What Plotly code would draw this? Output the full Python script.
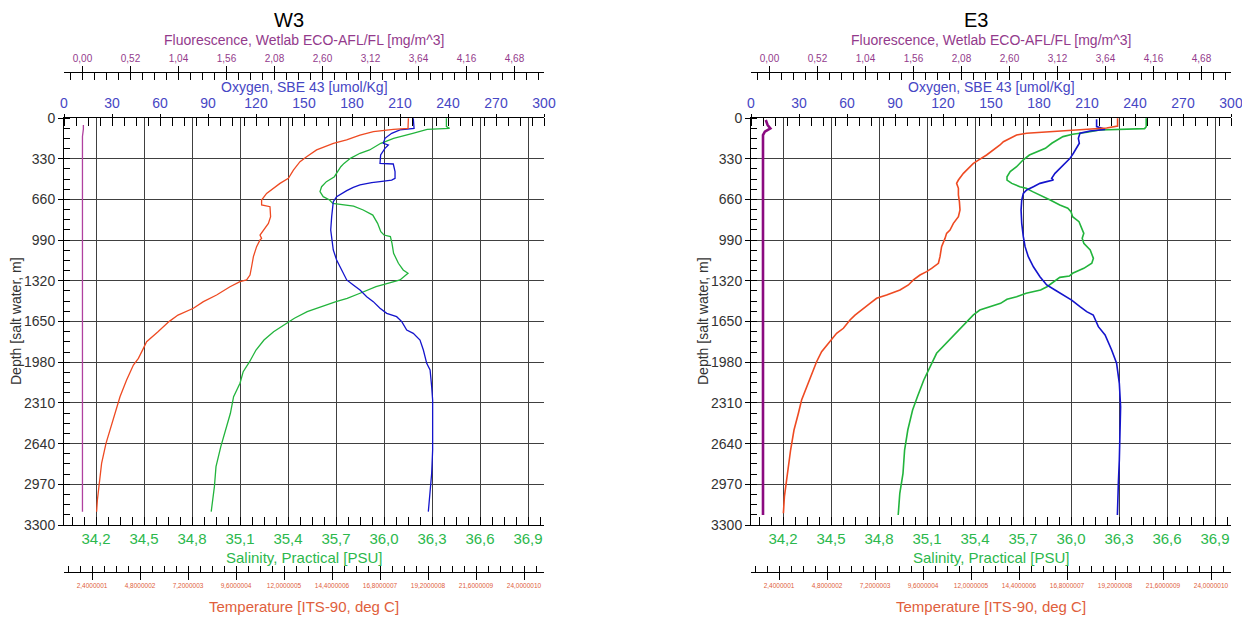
import plotly.graph_objects as go

# The page places the figure 8 px in from the top-left corner, so the figure is
# sized to end exactly at the 1250x618 window edge.
OFF = 8
W, H = 1250 - OFF, 618 - OFF

# ---------------- axis ticks / labels ----------------
depth_ticks = [0, 330, 660, 990, 1320, 1650, 1980, 2310, 2640, 2970, 3300]
depth_labels = [str(v) for v in depth_ticks]
oxy_ticks = [0, 30, 60, 90, 120, 150, 180, 210, 240, 270, 300]
oxy_labels = [str(v) for v in oxy_ticks]
sal_ticks = [34.2, 34.5, 34.8, 35.1, 35.4, 35.7, 36.0, 36.3, 36.6, 36.9]
sal_labels = ["34,2", "34,5", "34,8", "35,1", "35,4", "35,7", "36,0", "36,3", "36,6", "36,9"]
flu_ticks = [0.0, 0.52, 1.04, 1.56, 2.08, 2.60, 3.12, 3.64, 4.16, 4.68]
flu_labels = ["0,00", "0,52", "1,04", "1,56", "2,08", "2,60", "3,12", "3,64", "4,16", "4,68"]
tem_ticks = [2.4, 4.8, 7.2, 9.6, 12.0, 14.4, 16.8, 19.2, 21.6, 24.0]
tem_labels = ["2,4000001", "4,8000002", "7,2000003", "9,6000004", "12,0000005",
              "14,4000006", "16,8000007", "19,2000008", "21,6000009", "24,0000010"]

# ---------------- W3 profiles ----------------
w3_temp_depth = [2, 84, 92, 111, 138, 178, 205, 259, 314, 354, 422, 489, 530, 570, 611, 665, 705, 719,
                 800, 854, 908, 949, 976, 989, 1043, 1124, 1206, 1273, 1313, 1327, 1368, 1435, 1489,
                 1543, 1598, 1651, 1733, 1814, 1868, 1949, 2003, 2124, 2260, 2394, 2530, 2638, 2800,
                 2935, 3097, 3192]
w3_temp = [18.22, 18.2, 17.47, 16.47, 15.8, 15.13, 14.47, 13.63, 13.13, 12.8, 12.47, 12.22, 11.8, 11.47,
           11.13, 10.88, 10.88, 11.3, 11.33, 11.22, 10.97, 10.8, 10.88, 10.8, 10.63, 10.47, 10.38, 10.3,
           10.13, 9.8, 9.3, 8.63, 7.97, 7.47, 6.7, 6.25, 5.7, 5.13, 4.97, 4.72, 4.47, 4.13, 3.8, 3.55,
           3.3, 3.1, 2.88, 2.77, 2.67, 2.63]

w3_sal_depth = [2, 70, 84, 92, 124, 165, 205, 259, 286, 327, 368, 395, 476, 516, 557, 597, 638, 665, 692,
                705, 714, 746, 787, 854, 922, 949, 962, 1016, 1097, 1178, 1232, 1259, 1287, 1313, 1335,
                1368, 1421, 1462, 1489, 1530, 1570, 1624, 1665, 1733, 1800, 1881, 1976, 2057, 2151, 2260,
                2394, 2530, 2665, 2827, 2989, 3192]
w3_sal = [36.39, 36.39, 36.41, 36.27, 36.18, 36.06, 35.98, 35.91, 35.85, 35.79, 35.75, 35.73, 35.69,
          35.64, 35.61, 35.6, 35.62, 35.66, 35.68, 35.75, 35.81, 35.87, 35.93, 35.96, 35.98, 36.0, 36.04,
          36.05, 36.06, 36.09, 36.12, 36.15, 36.12, 36.1, 36.04, 35.95, 35.85, 35.77, 35.7, 35.61, 35.52,
          35.44, 35.39, 35.31, 35.25, 35.2, 35.16, 35.12, 35.1, 35.06, 35.04, 35.01, 34.98, 34.95, 34.94,
          34.92]

w3_oxy_depth = [2, 84, 97, 124, 165, 205, 219, 246, 300, 368, 373, 435, 489, 503, 516, 524, 543, 562, 589,
                611, 638, 678, 719, 800, 908, 989, 1070, 1151, 1232, 1313, 1354, 1395, 1449, 1489, 1543,
                1584, 1611, 1651, 1719, 1746, 1800, 1881, 1989, 2043, 2179, 2287, 2503, 2692, 2881, 3016,
                3192]
w3_oxy = [218.3, 218.8, 210.0, 204.8, 200.6, 199.6, 202.7, 200.6, 197.9, 197.5, 205.8, 206.9, 206.9, 204.8,
          197.5, 192.3, 185.0, 180.8, 176.7, 173.5, 170.4, 168.3, 167.9, 167.3, 166.7, 167.3, 168.3, 170.4,
          173.5, 176.7, 180.8, 185.0, 189.2, 193.3, 197.5, 201.7, 207.9, 211.1, 214.2, 218.3, 222.5, 224.6,
          226.7, 228.8, 229.8, 230.4, 230.4, 230.4, 229.8, 228.8, 227.7]

w3_flu_depth = [57, 90, 150, 1000, 2000, 3192]
w3_flu = [0.01, 0.01, 0.0, 0.0, 0.0, 0.0]

# ---------------- E3 profiles ----------------
e3_temp_depth = [2, 65, 81, 89, 97, 111, 119, 124, 138, 165, 192, 219, 259, 300, 341, 368, 408, 449, 503,
                 530, 570, 624, 678, 746, 800, 854, 908, 935, 976, 1043, 1124, 1178, 1219, 1246, 1273, 1313,
                 1354, 1395, 1435, 1462, 1503, 1543, 1598, 1638, 1705, 1746, 1814, 1895, 1976, 2151, 2287,
                 2394, 2530, 2692, 2827, 2935, 3070, 3205]
e3_temp = [19.33, 19.33, 18.78, 17.95, 17.12, 16.28, 15.45, 14.78, 14.28, 13.95, 13.62, 13.45, 13.12, 12.78,
           12.37, 12.12, 11.87, 11.62, 11.37, 11.28, 11.37, 11.37, 11.42, 11.45, 11.37, 11.12, 10.95, 10.78,
           10.7, 10.53, 10.45, 10.37, 10.03, 9.78, 9.45, 9.12, 8.87, 8.45, 7.78, 7.28, 6.95, 6.62, 6.2, 5.95,
           5.62, 5.28, 4.95, 4.53, 4.28, 3.87, 3.53, 3.37, 3.15, 2.98, 2.87, 2.75, 2.67, 2.62]

e3_sal_depth = [2, 70, 86, 89, 97, 116, 132, 151, 178, 205, 246, 273, 300, 341, 395, 435, 476, 503, 530, 557,
                570, 597, 638, 665, 705, 732, 760, 800, 841, 895, 935, 976, 1016, 1070, 1138, 1178, 1219,
                1259, 1281, 1292, 1327, 1368, 1395, 1421, 1449, 1470, 1503, 1530, 1557, 1597, 1651, 1719,
                1827, 1908, 2016, 2124, 2260, 2368, 2530, 2692, 2881, 3043, 3219]
e3_sal = [36.47, 36.47, 36.46, 36.29, 36.18, 36.1, 36.01, 35.95, 35.91, 35.88, 35.84, 35.79, 35.74, 35.7,
          35.66, 35.62, 35.6, 35.6, 35.63, 35.68, 35.72, 35.76, 35.83, 35.87, 35.93, 35.98, 36.0, 36.01,
          36.05, 36.07, 36.08, 36.07, 36.08, 36.12, 36.14, 36.13, 36.08, 36.01, 35.99, 35.93, 35.89, 35.85,
          35.81, 35.72, 35.66, 35.6, 35.56, 35.5, 35.43, 35.39, 35.35, 35.3, 35.22, 35.16, 35.12, 35.08,
          35.04, 35.01, 34.98, 34.96, 34.95, 34.93, 34.92]

e3_oxy_depth = [11, 70, 92, 105, 124, 165, 205, 246, 286, 327, 368, 408, 449, 489, 503, 516, 530, 557, 584,
                611, 665, 746, 854, 962, 1043, 1124, 1206, 1287, 1354, 1395, 1435, 1476, 1530, 1570, 1597,
                1651, 1692, 1759, 1881, 1989, 2151, 2341, 2611, 2773, 2962, 3097, 3219]
e3_oxy = [216.0, 216.0, 221.3, 211.9, 205.6, 204.6, 205.2, 203.5, 201.5, 199.4, 196.3, 193.1, 190.0, 187.9,
          189.0, 184.8, 180.6, 176.5, 172.3, 170.2, 169.2, 168.8, 169.2, 170.2, 171.3, 173.3, 176.5, 180.6,
          184.8, 190.0, 195.2, 200.4, 205.6, 209.8, 213.9, 216.0, 217.1, 221.3, 225.4, 228.5, 230.2, 231.0,
          230.6, 230.2, 229.6, 229.2, 229.0]

e3_flu_depth = [16, 57, 84, 111, 138, 1000, 2000, 3219]
e3_flu = [-0.04, -0.02, 0.01, -0.05, -0.07, -0.07, -0.07, -0.07]

# ---------------- styling ----------------
C_TEMP, C_TEMP_TXT = "#ee4a22", "#e0603c"
C_SAL, C_SAL_TXT = "#22b43c", "#2cb84c"
C_OXY, C_OXY_TXT = "#1414cc", "#4646c4"
C_FLU, C_FLU_TXT = "#a01890", "#933a8c"
GRID = "#404040"
FONT = "Liberation Sans, Arial, sans-serif"


def fx(px):
    # window pixel -> paper fraction
    return (px - OFF) / W


def fy(py):
    return 1 - (py - OFF) / H


Y_DOM = [fy(525), fy(118)]
panels = [
    dict(name="W3", x0=64, x1=544, xs=["x", "x2", "x3", "x4"], y="y", lw=1.3, flw=1.3,
         temp=(w3_temp, w3_temp_depth), sal=(w3_sal, w3_sal_depth), oxy=(w3_oxy, w3_oxy_depth),
         flu=(w3_flu, w3_flu_depth), flc="#b0409f"),
    dict(name="E3", x0=751, x1=1231, xs=["x5", "x6", "x7", "x8"], y="y2", lw=1.6, flw=2.6,
         temp=(e3_temp, e3_temp_depth), sal=(e3_sal, e3_sal_depth), oxy=(e3_oxy, e3_oxy_depth),
         flu=(e3_flu, e3_flu_depth), flc="#8b0a80"),
]

fig = go.Figure()
layout = dict(template="none", width=W, height=H,
              margin=dict(l=0, r=0, t=0, b=0, pad=0, autoexpand=False),
              paper_bgcolor="white", plot_bgcolor="white", showlegend=False,
              font=dict(family=FONT, color="#333"), annotations=[])


def axname(a):
    return "xaxis" if a == "x" else "xaxis" + a[1:]


def yname(a):
    return "yaxis" if a == "y" else "yaxis" + a[1:]


for p in panels:
    xs_, xo, xf, xt = p["xs"]
    ya = p["y"]
    dom = [fx(p["x0"]), fx(p["x1"])]
    # salinity (main bottom axis, carries grid)
    layout[axname(xs_)] = dict(
        domain=dom, range=[34.0, 37.0], anchor=ya, side="bottom", automargin=False,
        tickmode="array", tickvals=sal_ticks, ticktext=sal_labels,
        tickfont=dict(size=15, color=C_SAL_TXT), ticks="", showgrid=True, gridcolor=GRID, gridwidth=1,
        showline=True, linecolor="black", linewidth=1, zeroline=False, fixedrange=True,
        minor=dict(tickmode="linear", tick0=34.2, dtick=0.075, ticks="inside", ticklen=8,
                   tickcolor="black", showgrid=False))
    # oxygen (top)
    layout[axname(xo)] = dict(
        overlaying=xs_, range=[0, 300], anchor=ya, side="top", automargin=False,
        tickmode="array", tickvals=oxy_ticks, ticktext=oxy_labels,
        tickfont=dict(size=14, color=C_OXY_TXT), ticks="outside", ticklen=3, tickcolor="black",
        showgrid=False, showline=True, linecolor="black", zeroline=False,
        minor=dict(tickmode="linear", tick0=0, dtick=7.5, ticks="inside", ticklen=8,
                   tickcolor="black", showgrid=False))
    # fluorescence (free, top)
    layout[axname(xf)] = dict(
        overlaying=xs_, range=[-0.2, 5.0], anchor="free", position=fy(72), side="top", automargin=False,
        tickmode="array", tickvals=flu_ticks, ticktext=flu_labels,
        tickfont=dict(size=10, color=C_FLU_TXT), ticks="outside", ticklen=6, tickcolor="black",
        showgrid=False, showline=True, linecolor="black", zeroline=False,
        minor=dict(tickmode="linear", tick0=0, dtick=0.13, ticks="inside", ticklen=7,
                   tickcolor="black", showgrid=False))
    # temperature (free, bottom)
    layout[axname(xt)] = dict(
        overlaying=xs_, range=[1.0, 25.0], anchor="free", position=fy(572), side="bottom",
        automargin=False, tickmode="array", tickvals=tem_ticks, ticktext=tem_labels,
        tickfont=dict(size=6.5, color=C_TEMP_TXT), ticks="outside", ticklen=7, tickcolor="black",
        showgrid=False, showline=True, linecolor="black", zeroline=False,
        minor=dict(tickmode="linear", tick0=0, dtick=0.6, ticks="inside", ticklen=6,
                   tickcolor="black", showgrid=False))
    # depth
    layout[yname(ya)] = dict(
        domain=Y_DOM, range=[3300, 0], anchor=xs_, side="left", automargin=False,
        tickmode="array", tickvals=depth_ticks, ticktext=depth_labels,
        tickfont=dict(size=14, color="#333"), ticks="outside", ticklen=5, tickcolor="black",
        showgrid=True, gridcolor=GRID, gridwidth=1, showline=True, linecolor="black",
        zeroline=False,
        minor=dict(tickmode="linear", tick0=0, dtick=82.5, ticks="inside", ticklen=6,
                   tickcolor="black", showgrid=False))

    # traces
    for key, ax, col, lw in [("sal", xs_, C_SAL, p["lw"]), ("temp", xt, C_TEMP, p["lw"]),
                             ("oxy", xo, C_OXY, p["lw"]), ("flu", xf, p["flc"], p["flw"])]:
        vals, dep = p[key]
        fig.add_trace(go.Scatter(x=vals, y=dep, xaxis=ax, yaxis=ya, mode="lines",
                                 line=dict(color=col, width=lw), hoverinfo="skip"))

    cx = (p["x0"] + p["x1"]) / 2
    ann = layout["annotations"]
    ann.append(dict(text=p["name"], x=fx(cx - 15), y=fy(20), xref="paper", yref="paper",
                    showarrow=False, font=dict(size=20, color="black"), xanchor="center", yanchor="middle"))
    ann.append(dict(text="Fluorescence, Wetlab ECO-AFL/FL [mg/m^3]", x=fx(cx), y=fy(40), xref="paper",
                    yref="paper", showarrow=False, font=dict(size=14, color=C_FLU_TXT),
                    xanchor="center", yanchor="middle"))
    ann.append(dict(text="Oxygen, SBE 43 [umol/Kg]", x=fx(cx), y=fy(87), xref="paper", yref="paper",
                    showarrow=False, font=dict(size=14, color=C_OXY_TXT), xanchor="center", yanchor="middle"))
    ann.append(dict(text="Salinity, Practical [PSU]", x=fx(cx), y=fy(557), xref="paper", yref="paper",
                    showarrow=False, font=dict(size=15, color=C_SAL_TXT), xanchor="center", yanchor="middle"))
    ann.append(dict(text="Temperature [ITS-90, deg C]", x=fx(cx), y=fy(606), xref="paper", yref="paper",
                    showarrow=False, font=dict(size=15, color=C_TEMP_TXT), xanchor="center", yanchor="middle"))
    ann.append(dict(text="Depth [salt water, m]", x=fx(p["x0"] - 48), y=fy(321), xref="paper", yref="paper",
                    showarrow=False, textangle=-90, font=dict(size=14, color="#333"),
                    xanchor="center", yanchor="middle"))

fig.update_layout(**layout)
fig.write_html("out.html")
